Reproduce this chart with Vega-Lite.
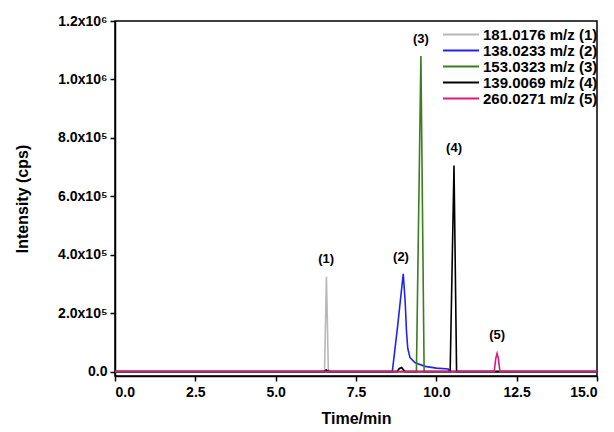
{
  "$schema": "https://vega.github.io/schema/vega-lite/v6.json",
  "width": 482,
  "height": 355,
  "autosize": {"type": "none"},
  "padding": {"left": 115, "top": 21, "right": 17, "bottom": 56},
  "background": "white",
  "config": {
    "font": "Liberation Sans",
    "view": {"stroke": "black", "strokeWidth": 1.5},
    "axis": {
      "domainColor": "black", "domainWidth": 1.5, "tickColor": "black", "tickWidth": 1.5, "tickSize": 5,
      "labelFont": "Liberation Sans", "labelFontWeight": "bold", "labelFontSize": 14, "labelColor": "black",
      "titleFont": "Liberation Sans", "titleFontWeight": "bold", "titleFontSize": 16, "titleColor": "black",
      "grid": false
    }
  },
  "datasets": {
    "lines": [
      {"s": "181.0176 m/z  (1)", "t": 0, "i": 0},
      {"s": "181.0176 m/z  (1)", "t": 6.52, "i": 0},
      {"s": "181.0176 m/z  (1)", "t": 6.58, "i": 325000},
      {"s": "181.0176 m/z  (1)", "t": 6.64, "i": 0},
      {"s": "181.0176 m/z  (1)", "t": 15, "i": 0},
      {"s": "138.0233 m/z  (2)", "t": 0, "i": 0},
      {"s": "138.0233 m/z  (2)", "t": 6.6, "i": 0},
      {"s": "138.0233 m/z  (2)", "t": 6.64, "i": 4000},
      {"s": "138.0233 m/z  (2)", "t": 6.7, "i": 0},
      {"s": "138.0233 m/z  (2)", "t": 8.63, "i": 0},
      {"s": "138.0233 m/z  (2)", "t": 8.8, "i": 160000},
      {"s": "138.0233 m/z  (2)", "t": 8.97, "i": 335000},
      {"s": "138.0233 m/z  (2)", "t": 9.03, "i": 240000},
      {"s": "138.0233 m/z  (2)", "t": 9.07, "i": 140000},
      {"s": "138.0233 m/z  (2)", "t": 9.11, "i": 80000},
      {"s": "138.0233 m/z  (2)", "t": 9.18, "i": 48000},
      {"s": "138.0233 m/z  (2)", "t": 9.34, "i": 30000},
      {"s": "138.0233 m/z  (2)", "t": 9.65, "i": 18000},
      {"s": "138.0233 m/z  (2)", "t": 10.0, "i": 12000},
      {"s": "138.0233 m/z  (2)", "t": 10.37, "i": 9000},
      {"s": "138.0233 m/z  (2)", "t": 10.42, "i": 0},
      {"s": "138.0233 m/z  (2)", "t": 15, "i": 0},
      {"s": "153.0323 m/z  (3)", "t": 0, "i": 0},
      {"s": "153.0323 m/z  (3)", "t": 9.38, "i": 0},
      {"s": "153.0323 m/z  (3)", "t": 9.52, "i": 1080000},
      {"s": "153.0323 m/z  (3)", "t": 9.62, "i": 0},
      {"s": "153.0323 m/z  (3)", "t": 15, "i": 0},
      {"s": "139.0069 m/z  (4)", "t": 0, "i": 0},
      {"s": "139.0069 m/z  (4)", "t": 6.52, "i": 0},
      {"s": "139.0069 m/z  (4)", "t": 6.57, "i": 6000},
      {"s": "139.0069 m/z  (4)", "t": 6.62, "i": 0},
      {"s": "139.0069 m/z  (4)", "t": 8.78, "i": 0},
      {"s": "139.0069 m/z  (4)", "t": 8.84, "i": 10000},
      {"s": "139.0069 m/z  (4)", "t": 8.92, "i": 14000},
      {"s": "139.0069 m/z  (4)", "t": 9.02, "i": 0},
      {"s": "139.0069 m/z  (4)", "t": 10.43, "i": 0},
      {"s": "139.0069 m/z  (4)", "t": 10.55, "i": 705000},
      {"s": "139.0069 m/z  (4)", "t": 10.63, "i": 0},
      {"s": "139.0069 m/z  (4)", "t": 15, "i": 0},
      {"s": "260.0271 m/z  (5)", "t": 0, "i": 0},
      {"s": "260.0271 m/z  (5)", "t": 11.8, "i": 0},
      {"s": "260.0271 m/z  (5)", "t": 11.85, "i": 45000},
      {"s": "260.0271 m/z  (5)", "t": 11.89, "i": 62000},
      {"s": "260.0271 m/z  (5)", "t": 11.93, "i": 45000},
      {"s": "260.0271 m/z  (5)", "t": 11.98, "i": 0},
      {"s": "260.0271 m/z  (5)", "t": 15, "i": 0}
    ],
    "labels": [
      {"t": 6.57, "i": 360000, "txt": "(1)"},
      {"t": 8.9, "i": 370000, "txt": "(2)"},
      {"t": 9.52, "i": 1115000, "txt": "(3)"},
      {"t": 10.55, "i": 740000, "txt": "(4)"},
      {"t": 11.89, "i": 100000, "txt": "(5)"}
    ]
  },
  "layer": [
    {
      "data": {"name": "lines"},
      "mark": {"type": "line", "strokeWidth": 1.6, "clip": true},
      "encoding": {
        "x": {"field": "t", "type": "quantitative", "title": "Time/min",
              "scale": {"domain": [0, 15], "nice": false, "zero": false},
              "axis": {"values": [0, 2.5, 5, 7.5, 10, 12.5, 15], "format": ".1f", "titlePadding": 11, "labelPadding": 4}},
        "y": {"field": "i", "type": "quantitative", "title": "Intensity (cps)",
              "scale": {"domain": [-15000, 1200000], "nice": false, "zero": false},
              "axis": {"values": [0, 200000, 400000, 600000, 800000, 1000000, 1200000],
                       "labelExpr": "datum.value >= 1000000 ? format(datum.value/1e6,'.1f')+'x10⁶' : datum.value > 0 ? format(datum.value/1e5,'.1f')+'x10⁵' : '0.0'",
                       "titlePadding": 27, "labelPadding": 3}},
        "color": {"field": "s", "type": "nominal",
                  "scale": {"domain": ["181.0176 m/z  (1)", "138.0233 m/z  (2)", "153.0323 m/z  (3)", "139.0069 m/z  (4)", "260.0271 m/z  (5)"],
                            "range": ["#b8b8b8", "#2323f0", "#3b7d1f", "#000000", "#dc1a7c"]},
                  "legend": {"title": null, "orient": "none", "legendX": 327, "legendY": 6,
                             "direction": "vertical", "columns": 1,
                             "symbolType": "stroke", "symbolSize": 1296, "symbolStrokeWidth": 2,
                             "labelFont": "Liberation Sans", "labelFontWeight": "bold", "labelFontSize": 15, "labelColor": "black",
                             "rowPadding": 0, "clipHeight": 15, "labelOffset": 3}}
      }
    },
    {
      "data": {"name": "labels"},
      "mark": {"type": "text", "font": "Liberation Sans", "fontWeight": "bold", "fontSize": 13, "color": "black", "baseline": "bottom"},
      "encoding": {
        "x": {"field": "t", "type": "quantitative"},
        "y": {"field": "i", "type": "quantitative"},
        "text": {"field": "txt"}
      }
    }
  ]
}
